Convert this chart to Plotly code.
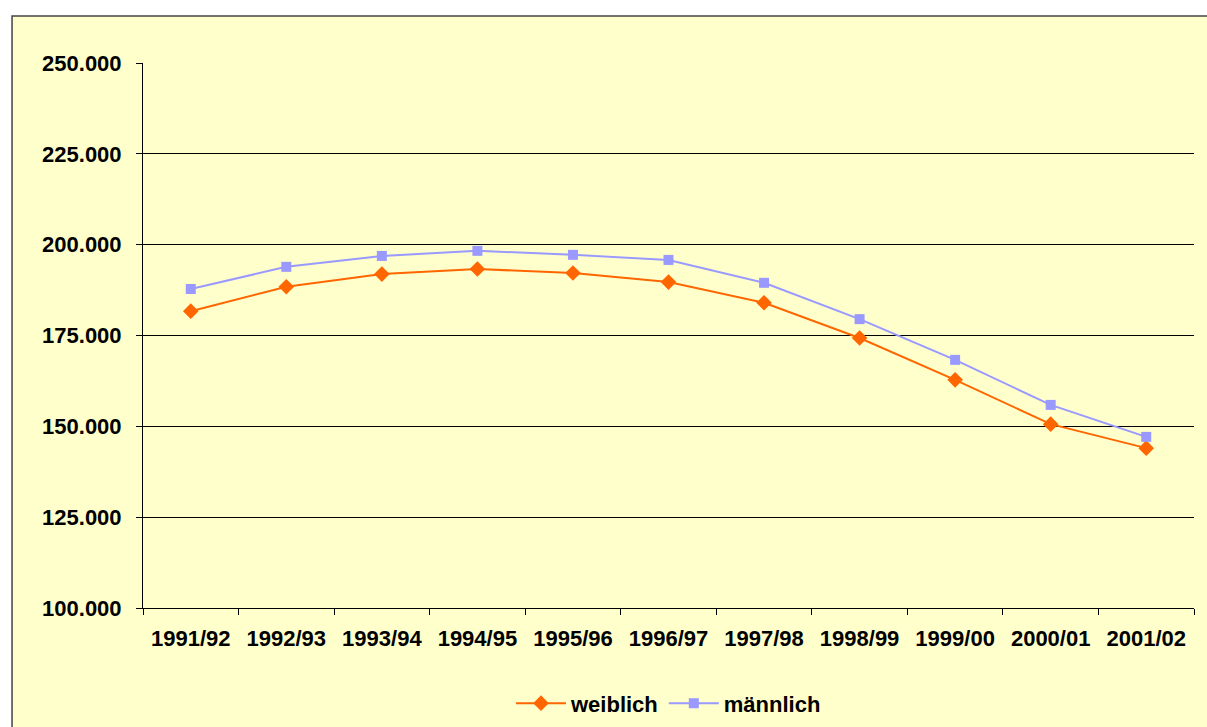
import plotly.graph_objects as go

categories = ["1991/92", "1992/93", "1993/94", "1994/95", "1995/96", "1996/97",
              "1997/98", "1998/99", "1999/00", "2000/01", "2001/02"]
weiblich = [181700, 188400, 191900, 193300, 192200, 189700, 184000, 174300, 162800, 150600, 144000]
maennlich = [187800, 193900, 196900, 198300, 197200, 195800, 189500, 179500, 168300, 155900, 147100]
y_ticks = [100000, 125000, 150000, 175000, 200000, 225000, 250000]
y_tick_labels = ["100.000", "125.000", "150.000", "175.000", "200.000", "225.000", "250.000"]

FONT = "Liberation Sans, Arial, sans-serif"
FS = 22

fig = go.Figure()
fig.add_trace(go.Scatter(
    x=categories, y=weiblich, name="weiblich", mode="lines+markers",
    line=dict(color="#FF6600", width=2),
    marker=dict(symbol="diamond", size=12, color="#FF6600"),
))
fig.add_trace(go.Scatter(
    x=categories, y=maennlich, name="männlich", mode="lines+markers",
    line=dict(color="#9999FF", width=2),
    marker=dict(symbol="square", size=10, color="#9999FF"),
))

fig.update_layout(
    width=1207, height=727,
    margin=dict(l=143, r=13, t=63, b=119, autoexpand=False),
    paper_bgcolor="white",
    plot_bgcolor="#FFFFCC",
    font=dict(family=FONT, size=FS, color="black"),
    showlegend=True,
    legend=dict(orientation="h", x=0.5, xanchor="center", y=-0.175, yanchor="middle",
                font=dict(family=FONT, size=FS, color="black", weight="bold"),
                bgcolor="rgba(0,0,0,0)", itemwidth=50),
    shapes=[dict(type="rect", xref="paper", yref="paper",
                 x0=-0.1246, x1=1.06, y0=-0.3, y1=1.0862,
                 fillcolor="#FFFFCC", line=dict(color="#444444", width=1.5),
                 layer="below")],
)
fig.update_xaxes(
    type="category", showgrid=False, showline=True, linecolor="black", linewidth=1,
    ticks="outside", ticklen=6, tickcolor="black", tickson="boundaries",
    tickfont=dict(family=FONT, size=FS, color="black", weight="bold"),
    ticklabelstandoff=11, range=[-0.5, 10.5],
)
fig.update_yaxes(
    range=[100000, 250000], tickvals=y_ticks, ticktext=y_tick_labels,
    showgrid=True, gridcolor="black", gridwidth=1,
    showline=True, linecolor="black", linewidth=1,
    ticks="outside", ticklen=6, tickcolor="black",
    tickfont=dict(family=FONT, size=FS, color="black", weight="bold"),
    ticklabelstandoff=10, zeroline=False,
)

fig.write_html(
    "out.html",
    config={"displayModeBar": False},
    post_script="document.body.style.margin='0';document.body.style.overflow='hidden';",
)
